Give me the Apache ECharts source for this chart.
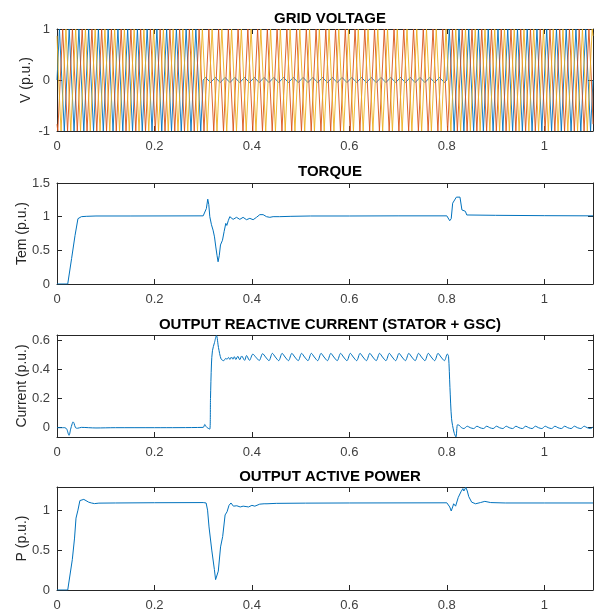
<!DOCTYPE html>
<html>
<head>
<meta charset="utf-8">
<script src="https://cdn.jsdelivr.net/npm/echarts@6/dist/echarts.min.js"></script>
<style>html,body{margin:0;padding:0;background:#fff}#c{width:600px;height:614px}</style>
</head>
<body>
<div id="c"></div>
<script>
// ---------- data ----------
const titles = ['GRID VOLTAGE', 'TORQUE', 'OUTPUT REACTIVE CURRENT (STATOR + GSC)', 'OUTPUT ACTIVE POWER'];
const yNames = ['V (p.u.)', 'Tem (p.u.)', 'Current (p.u.)', 'P (p.u.)'];
const xTicks = [0, 0.2, 0.4, 0.6, 0.8, 1];
const vTicks = [-1, 0, 1];
const temTicks = [0, 0.5, 1, 1.5];
const curTicks = [0, 0.2, 0.4, 0.6];
const pTicks = [0, 0.5, 1];

// grid voltage, quarter-cycle samples (50 Hz -> 0.005 s spacing)
const VSTEP = 0.005;
const phaseAStart = 0;
const phaseA = [
0,1,0,-1,0,1,0,-1,0,1,0,-1,0,1,0,-1,0,1,0,-1,
0,1,0,-1,0,1,0,-1,0,1,0,-1,0,1,0,-1,0,1,0,-1,
0,1,0,-1,0,1,0,-1,0,1,0,-1,0,1,0,-1,0,1,0,-1,
0,0.05,0,-0.05,0,0.05,0,-0.05,0,0.05,0,-0.05,0,0.05,0,-0.05,0,0.05,0,-0.05,
0,0.05,0,-0.05,0,0.05,0,-0.05,0,0.05,0,-0.05,0,0.05,0,-0.05,0,0.05,0,-0.05,
0,0.05,0,-0.05,0,0.05,0,-0.05,0,0.05,0,-0.05,0,0.05,0,-0.05,0,0.05,0,-0.05,
0,0.05,0,-0.05,0,0.05,0,-0.05,0,0.05,0,-0.05,0,0.05,0,-0.05,0,0.05,0,-0.05,
0,0.05,0,-0.05,0,0.05,0,-0.05,0,0.05,0,-0.05,0,0.05,0,-0.05,0,0.05,0,-0.05,
0,1,0,-1,0,1,0,-1,0,1,0,-1,0,1,0,-1,0,1,0,-1,
0,1,0,-1,0,1,0,-1,0,1,0,-1,0,1,0,-1,0,1,0,-1,
0,1,0,-1,0,1,0,-1,0,1,0,-1,0,1,0,-1,0,1,0,-1,
0];
const phaseBStart = 0.0016667;
const phaseBEdge = [-0.866, -0.866];
const phaseB = [
-1,0,1,0,-1,0,1,0,-1,0,1,0,-1,0,1,0,-1,0,1,0,
-1,0,1,0,-1,0,1,0,-1,0,1,0,-1,0,1,0,-1,0,1,0,
-1,0,1,0,-1,0,1,0,-1,0,1,0,-1,0,1,0,-1,0,1,0,
-1,0,1,0,-1,0,1,0,-1,0,1,0,-1,0,1,0,-1,0,1,0,
-1,0,1,0,-1,0,1,0,-1,0,1,0,-1,0,1,0,-1,0,1,0,
-1,0,1,0,-1,0,1,0,-1,0,1,0,-1,0,1,0,-1,0,1,0,
-1,0,1,0,-1,0,1,0,-1,0,1,0,-1,0,1,0,-1,0,1,0,
-1,0,1,0,-1,0,1,0,-1,0,1,0,-1,0,1,0,-1,0,1,0,
-1,0,1,0,-1,0,1,0,-1,0,1,0,-1,0,1,0,-1,0,1,0,
-1,0,1,0,-1,0,1,0,-1,0,1,0,-1,0,1,0,-1,0,1,0,
-1,0,1,0,-1,0,1,0,-1,0,1,0,-1,0,1,0,-1,0,1,0];
const phaseCStart = 0.0033333;
const phaseCEdge = [0.866, 0.866];
const phaseC = [
0,-1,0,1,0,-1,0,1,0,-1,0,1,0,-1,0,1,0,-1,0,1,
0,-1,0,1,0,-1,0,1,0,-1,0,1,0,-1,0,1,0,-1,0,1,
0,-1,0,1,0,-1,0,1,0,-1,0,1,0,-1,0,1,0,-1,0,1,
0,-1,0,1,0,-1,0,1,0,-1,0,1,0,-1,0,1,0,-1,0,1,
0,-1,0,1,0,-1,0,1,0,-1,0,1,0,-1,0,1,0,-1,0,1,
0,-1,0,1,0,-1,0,1,0,-1,0,1,0,-1,0,1,0,-1,0,1,
0,-1,0,1,0,-1,0,1,0,-1,0,1,0,-1,0,1,0,-1,0,1,
0,-1,0,1,0,-1,0,1,0,-1,0,1,0,-1,0,1,0,-1,0,1,
0,-1,0,1,0,-1,0,1,0,-1,0,1,0,-1,0,1,0,-1,0,1,
0,-1,0,1,0,-1,0,1,0,-1,0,1,0,-1,0,1,0,-1,0,1,
0,-1,0,1,0,-1,0,1,0,-1,0,1,0,-1,0,1,0,-1,0,1];

// torque [t, Tem]
const torque = [
[0,0],[0.022,0],[0.03,0.38],[0.037,0.72],[0.043,0.97],[0.05,1.0],[0.06,1.005],[0.08,1.01],[0.15,1.01],[0.3,1.012],
[0.3033,1.02],[0.3065,1.12],[0.3094,1.26],[0.3115,1.18],[0.3136,1.0],[0.317,0.88],[0.3203,0.80],[0.3232,0.7],[0.3259,0.55],
[0.3285,0.42],[0.3306,0.33],[0.333,0.42],[0.3355,0.58],[0.3396,0.65],[0.343,0.78],[0.3464,0.90],[0.3485,0.87],[0.3515,0.94],
[0.3546,1.0],[0.358,0.975],[0.3614,0.96],[0.365,0.985],[0.3684,0.99],[0.372,0.97],[0.3752,0.96],[0.3785,0.98],[0.3819,0.99],
[0.3855,0.965],[0.3889,0.955],[0.3923,0.97],[0.3957,0.975],[0.399,0.96],[0.4025,0.955],[0.406,0.97],[0.4094,0.99],[0.4128,1.015],
[0.4162,1.03],[0.42,1.035],[0.423,1.03],[0.4265,1.015],[0.43,1.0],[0.4368,0.99],[0.4435,1.0],[0.457,1.0],[0.48,1.005],[0.52,1.01],
[0.6,1.01],[0.7,1.012],[0.8,1.012],[0.803,0.99],[0.806,0.94],[0.809,0.97],[0.812,1.2],[0.8157,1.21],[0.8196,1.29],[0.8235,1.31],
[0.827,1.29],[0.831,1.1],[0.835,1.11],[0.838,1.08],[0.841,1.025],[0.845,1.02],[0.9,1.02],[1.0,1.015],[1.1,1.012]];

// reactive current [t, I]
const current = [
[0,0],[0.016,0.0],[0.02,-0.01],[0.0247,-0.053],[0.028,-0.01],[0.031,0.025],[0.033,0.04],[0.035,0.03],[0.038,0.0],[0.042,-0.004],
[0.05,0.002],[0.08,-0.002],[0.12,0.0],[0.2,0.0],[0.3,0.002],[0.3033,0.022],[0.306,0.008],[0.3082,0.0],[0.3136,-0.01],[0.315,0.2],
[0.317,0.437],[0.319,0.528],[0.3232,0.584],[0.3273,0.632],[0.3314,0.55],[0.3368,0.471],[0.3423,0.46],[0.346,0.475],[0.349,0.47],
[0.352,0.482],[0.355,0.468],[0.358,0.485],[0.361,0.47],[0.364,0.487],[0.367,0.468],[0.371,0.49],[0.375,0.466],[0.379,0.492],
[0.385,0.462],[0.389,0.495],
[0.395,0.462],[0.402,0.505],[0.408,0.484],
[0.415,0.461],[0.422,0.508],[0.428,0.485],
[0.435,0.46],[0.442,0.51],[0.448,0.485],
[0.455,0.46],[0.462,0.51],[0.468,0.485],
[0.475,0.46],[0.482,0.51],[0.488,0.485],
[0.495,0.46],[0.502,0.51],[0.508,0.485],
[0.515,0.46],[0.522,0.51],[0.528,0.485],
[0.535,0.46],[0.542,0.51],[0.548,0.485],
[0.555,0.46],[0.562,0.51],[0.568,0.485],
[0.575,0.46],[0.582,0.51],[0.588,0.485],
[0.595,0.46],[0.602,0.51],[0.608,0.485],
[0.615,0.46],[0.622,0.51],[0.628,0.485],
[0.635,0.46],[0.642,0.51],[0.648,0.485],
[0.655,0.46],[0.662,0.51],[0.668,0.485],
[0.675,0.46],[0.682,0.51],[0.688,0.485],
[0.695,0.46],[0.702,0.51],[0.708,0.485],
[0.715,0.46],[0.722,0.51],[0.728,0.485],
[0.735,0.46],[0.742,0.51],[0.748,0.485],
[0.755,0.46],[0.762,0.51],[0.768,0.485],
[0.775,0.46],[0.782,0.51],[0.788,0.485],
[0.795,0.46],[0.801,0.505],[0.8035,0.49],[0.8064,0.277],[0.8098,0.061],[0.8146,-0.03],[0.8187,-0.064],[0.822,0.02],
[0.826,0.015],[0.83,0.0],
[0.835,-0.006],[0.842,0.01],[0.848,0.0],
[0.855,-0.006],[0.862,0.01],[0.868,0.0],
[0.875,-0.006],[0.882,0.01],[0.888,0.0],
[0.895,-0.006],[0.902,0.01],[0.908,0.0],
[0.915,-0.006],[0.922,0.01],[0.928,0.0],
[0.935,-0.006],[0.942,0.01],[0.948,0.0],
[0.955,-0.006],[0.962,0.01],[0.968,0.0],
[0.975,-0.006],[0.982,0.01],[0.988,0.0],
[0.995,-0.006],[1.002,0.01],[1.008,0.0],
[1.015,-0.006],[1.022,0.01],[1.028,0.0],
[1.035,-0.006],[1.042,0.01],[1.048,0.0],
[1.055,-0.006],[1.062,0.01],[1.068,0.0],
[1.075,-0.006],[1.082,0.01],[1.088,0.0],
[1.095,-0.006],[1.1,0.005]];

// active power [t, P]
const power = [
[0,0],[0.022,0],[0.0314,0.38],[0.036,0.65],[0.039,0.9],[0.043,1.0],[0.047,1.12],[0.051,1.145],[0.055,1.135],[0.059,1.115],
[0.065,1.1],[0.0706,1.09],[0.077,1.082],[0.086,1.088],[0.12,1.09],[0.2,1.093],[0.3,1.095],[0.306,1.09],[0.309,1.0],[0.312,0.79],
[0.3176,0.5],[0.323,0.256],[0.3255,0.13],[0.328,0.14],[0.331,0.236],[0.3357,0.54],[0.34,0.67],[0.345,0.94],[0.349,0.98],
[0.353,1.06],[0.357,1.09],[0.362,1.05],[0.365,1.065],[0.369,1.055],[0.372,1.06],[0.376,1.04],[0.382,1.05],[0.388,1.045],
[0.393,1.04],[0.396,1.03],[0.4,1.06],[0.403,1.045],[0.406,1.05],[0.41,1.065],[0.416,1.075],[0.425,1.08],[0.431,1.08],
[0.45,1.085],[0.51,1.088],[0.6,1.09],[0.8,1.092],[0.803,1.08],[0.806,1.04],[0.809,0.99],[0.812,1.04],[0.814,1.08],
[0.818,1.05],[0.8235,1.16],[0.829,1.23],[0.833,1.27],[0.835,1.24],[0.839,1.285],[0.842,1.24],[0.845,1.17],[0.851,1.1],
[0.859,1.08],[0.869,1.095],[0.878,1.11],[0.89,1.095],[0.92,1.09],[1.0,1.09],[1.1,1.09]];

// ---------- chart ----------
const FONT = 'Liberation Sans';
const AXC = '#262626';
const grids = [
  {left: 57, width: 536, top: 29, height: 102},
  {left: 57, width: 536, top: 183, height: 101},
  {left: 57, width: 536, top: 335, height: 102},
  {left: 57, width: 536, top: 487, height: 103}
];
const yRanges = [[-1, 1], [0, 1.5], [-0.064, 0.636], [0, 1.29]];
const yTickSets = [vTicks, temTicks, curTicks, pTicks];
const nameGaps = [24, 28, 28, 28];

function wave(t0, vals, edge) {
  const pts = [];
  if (edge) pts.push([0, edge[0]]);
  vals.forEach((v, i) => pts.push([+(t0 + i * VSTEP).toFixed(6), v]));
  if (edge) pts.push([1.1, edge[1]]);
  return pts;
}

const xAxis = [], yAxis = [];
for (let i = 0; i < 4; i++) {
  xAxis.push({
    type: 'value', gridIndex: i, min: 0, max: 1.1, position: 'bottom',
    axisLine: {show: true, onZero: false, lineStyle: {color: AXC, width: 1}},
    axisTick: {show: true, inside: true, length: 5, customValues: xTicks, lineStyle: {color: AXC}},
    axisLabel: {show: true, customValues: xTicks, margin: 9, color: '#404040', fontFamily: FONT, fontSize: 13},
    splitLine: {show: false}
  });
  yAxis.push({
    type: 'value', gridIndex: i, min: yRanges[i][0], max: yRanges[i][1], position: 'left',
    name: yNames[i], nameLocation: 'middle', nameGap: nameGaps[i], nameMoveOverlap: false,
    nameTextStyle: {color: '#262626', fontFamily: FONT, fontSize: 14},
    axisLine: {show: true, onZero: false, lineStyle: {color: AXC, width: 1}},
    axisTick: {show: true, inside: true, length: 5, customValues: yTickSets[i], lineStyle: {color: AXC}},
    axisLabel: {show: true, customValues: yTickSets[i], margin: 7, color: '#404040', fontFamily: FONT, fontSize: 13},
    splitLine: {show: false}
  });
}
for (let i = 0; i < 4; i++) {
  xAxis.push({
    type: 'value', gridIndex: i, min: 0, max: 1.1, position: 'top',
    axisLine: {show: true, onZero: false, lineStyle: {color: AXC, width: 1}},
    axisTick: {show: true, inside: true, length: 5, customValues: xTicks, lineStyle: {color: AXC}},
    axisLabel: {show: false}, splitLine: {show: false}
  });
  yAxis.push({
    type: 'value', gridIndex: i, min: yRanges[i][0], max: yRanges[i][1], position: 'right',
    axisLine: {show: true, onZero: false, lineStyle: {color: AXC, width: 1}},
    axisTick: {show: true, inside: true, length: 5, customValues: yTickSets[i], lineStyle: {color: AXC}},
    axisLabel: {show: false}, splitLine: {show: false}
  });
}

const titleTops = [6, 159, 312, 464];
const title = titles.map((t, i) => ({
  text: t, left: 325, top: titleTops[i], textAlign: 'center',
  textStyle: {fontFamily: FONT, fontSize: 15, fontWeight: 'bold', color: '#000'}
}));

const lineBase = {type: 'line', showSymbol: false, symbol: 'none', animation: false, silent: true};
const series = [
  Object.assign({}, lineBase, {xAxisIndex: 0, yAxisIndex: 0, data: wave(phaseAStart, phaseA), lineStyle: {color: '#0072BD', width: 0.9}}),
  Object.assign({}, lineBase, {xAxisIndex: 0, yAxisIndex: 0, data: wave(phaseBStart, phaseB, phaseBEdge), lineStyle: {color: '#D95319', width: 0.9}}),
  Object.assign({}, lineBase, {xAxisIndex: 0, yAxisIndex: 0, data: wave(phaseCStart, phaseC, phaseCEdge), lineStyle: {color: '#EDB120', width: 0.9}}),
  Object.assign({}, lineBase, {xAxisIndex: 1, yAxisIndex: 1, data: torque, lineStyle: {color: '#0072BD', width: 1}}),
  Object.assign({}, lineBase, {xAxisIndex: 2, yAxisIndex: 2, data: current, smooth: 0.3, lineStyle: {color: '#0072BD', width: 1}}),
  Object.assign({}, lineBase, {xAxisIndex: 3, yAxisIndex: 3, data: power, lineStyle: {color: '#0072BD', width: 1}})
];

const chart = echarts.init(document.getElementById('c'), null, {renderer: 'canvas'});
chart.setOption({
  animation: false,
  backgroundColor: '#fff',
  title, grid: grids, xAxis, yAxis, series
});
</script>
</body>
</html>
